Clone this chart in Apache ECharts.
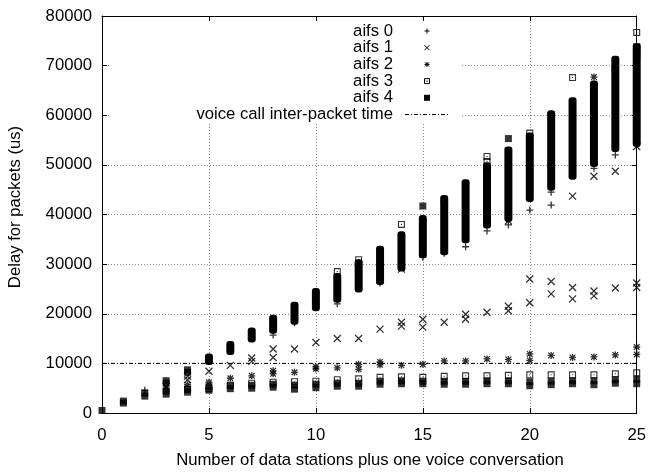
<!DOCTYPE html>
<html>
<head>
<meta charset="utf-8">
<script src="https://cdn.jsdelivr.net/npm/echarts@6/dist/echarts.min.js"></script>
<style>
  html, body { margin: 0; padding: 0; background: #fff; }
  #chart { width: 649px; height: 474px; }
</style>
</head>
<body>
<div id="chart"></div>
<script>
// Delay samples, [stations, delay in us], one list per AIFS class
const aifs0 = [
  [2, 4600], [8, 15700], [9, 18200], [11, 22000], [13, 26200], [15, 31400],
  [16, 32200], [17, 33500], [18, 36700], [19, 37900], [20, 40900], [21, 44500],
  [21, 41900], [23, 49300], [24, 52000]
];
const aifs1 = [
  [3, 5300], [4, 7400], [4, 6700], [5, 8400], [6, 9600], [7, 11100], [7, 10400],
  [8, 12900], [8, 11200], [9, 12900], [10, 14200], [11, 15000], [12, 15000],
  [13, 16900], [14, 18300], [14, 17500], [15, 18900], [15, 17300], [16, 18300],
  [17, 19900], [17, 18900], [18, 20300], [19, 21500], [19, 20600], [20, 27000],
  [20, 22200], [21, 26500], [21, 24000], [22, 25300], [22, 23000], [23, 24600],
  [23, 23600], [24, 25200], [25, 26200], [25, 25300],
  [14, 29000], [17, 35200], [19, 38700], [22, 43700], [23, 47700], [24, 48700], [25, 53700]
];
const aifs2 = [
  [3, 5000], [4, 5700], [5, 6200], [6, 7000], [7, 7500], [8, 8500], [8, 7900],
  [9, 8200], [10, 9300], [10, 8900], [11, 9100], [12, 9800], [12, 8800],
  [13, 10300], [13, 9700], [14, 9600], [15, 9800], [16, 10500], [17, 10500],
  [18, 10900], [19, 10800], [20, 11900], [20, 10600], [21, 11600], [22, 11200],
  [23, 11300], [24, 11700], [25, 13300], [25, 11800],
  [23, 67700]
];
const aifs3 = [
  [4, 4800], [5, 4900], [6, 5600], [7, 6000], [8, 6200], [9, 6300], [10, 6400],
  [11, 6700], [12, 6900], [13, 7200], [14, 7300], [15, 7200], [16, 7400],
  [17, 7500], [18, 7500], [19, 7600], [20, 7700], [21, 7700], [22, 7700],
  [23, 7700], [24, 7900], [25, 8100],
  [11, 28500], [12, 30900], [14, 38000], [16, 42800], [18, 51700], [18, 50700],
  [20, 56400], [22, 67600], [24, 69600], [24, 68900], [25, 76700], [25, 73000], [25, 72000]
];
const aifs4 = [
  [0, 500], [1, 2000], [1, 2400], [2, 3400], [2, 4000], [3, 3800], [3, 4400],
  [3, 6000], [3, 6500], [4, 4200], [4, 4800], [4, 8200], [4, 8700],
  [5, 4600], [5, 5300], [6, 4900], [6, 5500], [7, 5000], [7, 5600], [8, 5200],
  [8, 5800], [9, 4800], [9, 5600], [10, 5100], [10, 5800], [11, 5400], [11, 6000],
  [12, 5400], [12, 6000], [13, 5800], [13, 6400], [14, 5900], [14, 6500],
  [15, 5900], [15, 6400], [16, 5800], [16, 6400], [17, 5800], [17, 6400],
  [18, 5900], [18, 6500], [19, 5900], [19, 6500], [20, 5500], [20, 6300],
  [21, 5700], [21, 6400], [22, 5900], [22, 6500], [23, 5700], [23, 6500],
  [24, 6000], [24, 6700], [25, 5900], [25, 6800],
  [15, 41700], [19, 55300], [25, 73800]
];

// Dense stacks of overlapping samples (all classes), lowest and highest delay per station count
const stackX    = [5, 6, 7, 8, 9, 10, 11, 12, 13, 14, 15, 16, 17, 18, 19, 20, 21, 22, 23, 24, 25];
const stackLow  = [10400, 12400, 14900, 16700, 18500, 21200, 22900, 25000, 26500, 29200, 31900,
                   32500, 34900, 37900, 39200, 43200, 45500, 47700, 50300, 53300, 54300];
const stackHigh = [11300, 13800, 16500, 19100, 21700, 24500, 27500, 30300, 33000, 35900, 39200,
                   43200, 46400, 49800, 53000, 55800, 60300, 62900, 66300, 71300, 73800];

// Voice call inter-packet time reference line
const voiceX = [0, 25];
const voiceY = [10000, 10000];

const seriesNames = ['aifs 0', 'aifs 1', 'aifs 2', 'aifs 3', 'aifs 4'];
const voiceName = 'voice call inter-packet time';

const FONT = 'Liberation Sans, Arial, Helvetica, sans-serif';
const FS = 16.7;

// Point shapes (gnuplot-like)
const PLUS  = 'M0,5L10,5M5,0L5,10';
const CROSS = 'M0,0L10,10M10,0L0,10';
const STAR  = 'M0,5L10,5M5,0L5,10M1,1L9,9M9,1L1,9';
const BOX   = 'M0,0L10,0L10,10L0,10Z M1.6,1.6L1.6,8.4L8.4,8.4L8.4,1.6Z M4.2,4.2L5.8,4.2L5.8,5.8L4.2,5.8Z';

const chart = echarts.init(document.getElementById('chart'), null, { renderer: 'canvas' });

const axisLineStyle = { color: '#000', width: 1 };
const tickStyle = { show: true, inside: true, length: 5, lineStyle: { color: '#000', width: 1 } };
const gridStyle = { show: true, lineStyle: { color: '#8a8a8a', width: 1, type: [1, 2] } };

const strokeSymbol = (name, path, data, z) => ({
  name, type: 'scatter', data, symbol: 'path://' + path, symbolSize: 7, z,
  itemStyle: { color: '#000', borderColor: '#000', borderWidth: 1.3 },
  silent: true, animation: false
});

// Legend: opaque key box, right-aligned labels, samples to the right
const legendRowY = [31, 47.7, 64.4, 81.1, 97.8, 114.5];
const legendText = seriesNames.concat([voiceName]);
const KX = 427, KH = 2.5;
const elements = [
  { type: 'rect', z: 1, silent: true,
    shape: { x: 109, y: 22, width: 351, height: 100 },
    style: { fill: '#fff' } }
];
const seg = (x1, y1, x2, y2, dash) => ({
  type: 'line', z: 5, silent: true,
  shape: { x1, y1, x2, y2 },
  style: { stroke: '#000', lineWidth: 1, lineDash: dash || null }
});
legendText.forEach((t, i) => {
  elements.push({
    type: 'text', z: 5, silent: true,
    style: { x: 393, y: legendRowY[i], text: t, fill: '#000', font: FS + 'px ' + FONT,
             textAlign: 'right', textVerticalAlign: 'middle' }
  });
});
(function () {
  const y = legendRowY;
  // plus
  elements.push(seg(KX - KH, y[0], KX + KH, y[0]), seg(KX, y[0] - KH, KX, y[0] + KH));
  // cross
  elements.push(seg(KX - KH, y[1] - KH, KX + KH, y[1] + KH), seg(KX + KH, y[1] - KH, KX - KH, y[1] + KH));
  // star
  elements.push(seg(KX - KH, y[2], KX + KH, y[2]), seg(KX, y[2] - KH, KX, y[2] + KH),
                seg(KX - 2, y[2] - 2, KX + 2, y[2] + 2), seg(KX + 2, y[2] - 2, KX - 2, y[2] + 2));
  // hollow box with dot
  elements.push({ type: 'rect', z: 5, silent: true,
    shape: { x: KX - KH, y: y[3] - KH, width: 2 * KH, height: 2 * KH },
    style: { fill: null, stroke: '#000', lineWidth: 1 } });
  elements.push({ type: 'rect', z: 5, silent: true,
    shape: { x: KX - 0.6, y: y[3] - 0.6, width: 1.2, height: 1.2 }, style: { fill: '#000' } });
  // filled box
  elements.push({ type: 'rect', z: 5, silent: true,
    shape: { x: KX - 3, y: y[4] - 3, width: 6, height: 6 }, style: { fill: '#000' } });
  // dash-dot sample
  elements.push(seg(405, y[5], 448, y[5], [4, 2, 1, 2]));
})();

// Axis titles
elements.push({ type: 'text', z: 5, silent: true,
  style: { x: 370, y: 460, text: 'Number of data stations plus one voice conversation',
           fill: '#000', font: FS + 'px ' + FONT, textAlign: 'center', textVerticalAlign: 'middle' } });
elements.push({ type: 'text', z: 5, silent: true, x: 15, y: 207, rotation: Math.PI / 2,
  style: { x: 0, y: 0, text: 'Delay for packets (us)',
           fill: '#000', font: FS + 'px ' + FONT, textAlign: 'center', textVerticalAlign: 'middle' } });

const plain = v => String(v);

const option = {
  backgroundColor: '#fff',
  animation: false,
  grid: { left: 102, right: 11, top: 16, bottom: 61, containLabel: false },
  xAxis: [
    { type: 'value', min: 0, max: 25, interval: 5, position: 'bottom',
      axisLine: { show: true, onZero: false, lineStyle: axisLineStyle },
      axisTick: tickStyle,
      axisLabel: { color: '#000', fontSize: FS, fontFamily: FONT, margin: 14, formatter: plain,
                   showMinLabel: true, showMaxLabel: true },
      splitLine: gridStyle },
    { type: 'value', min: 0, max: 25, interval: 5, position: 'top', z: 6,
      axisLine: { show: true, onZero: false, lineStyle: axisLineStyle },
      axisTick: tickStyle, axisLabel: { show: false }, splitLine: { show: false } }
  ],
  yAxis: [
    { type: 'value', min: 0, max: 80000, interval: 10000, position: 'left',
      axisLine: { show: true, onZero: false, lineStyle: axisLineStyle },
      axisTick: tickStyle,
      axisLabel: { color: '#000', fontSize: FS, fontFamily: FONT, margin: 10, formatter: plain,
                   showMinLabel: true, showMaxLabel: true },
      splitLine: gridStyle },
    { type: 'value', min: 0, max: 80000, interval: 10000, position: 'right', z: 6,
      axisLine: { show: true, onZero: false, lineStyle: axisLineStyle },
      axisTick: tickStyle, axisLabel: { show: false }, splitLine: { show: false } }
  ],
  graphic: { elements },
  series: [
    {
      name: 'stack', type: 'custom', z: 2, silent: true, animation: false,
      data: stackX.map((x, i) => [x, stackLow[i], stackHigh[i]]),
      encode: { x: 0, y: [1, 2] },
      renderItem: (params, api) => {
        const lo = api.coord([api.value(0), api.value(1)]);
        const hi = api.coord([api.value(0), api.value(2)]);
        return { type: 'rect',
          shape: { x: lo[0] - 4, y: hi[1] - 3.5, width: 8, height: lo[1] - hi[1] + 7, r: 3 },
          style: { fill: '#000' } };
      }
    },
    {
      name: voiceName, type: 'line', z: 3, silent: true, animation: false,
      data: voiceX.map((x, i) => [x, voiceY[i]]), symbol: 'none',
      lineStyle: { color: '#000', width: 1, type: [4, 2, 1, 2] }
    },
    strokeSymbol(seriesNames[0], PLUS, aifs0, 3),
    strokeSymbol(seriesNames[1], CROSS, aifs1, 3),
    strokeSymbol(seriesNames[2], STAR, aifs2, 3),
    {
      name: seriesNames[4], type: 'scatter', data: aifs4, symbol: 'rect', symbolSize: 7, z: 3,
      itemStyle: { color: '#000' }, silent: true, animation: false
    },
    {
      name: seriesNames[3], type: 'scatter', data: aifs3, symbol: 'path://' + BOX, symbolSize: 7, z: 4,
      itemStyle: { color: '#000' }, silent: true, animation: false
    }
  ]
};

chart.setOption(option);
</script>
</body>
</html>
